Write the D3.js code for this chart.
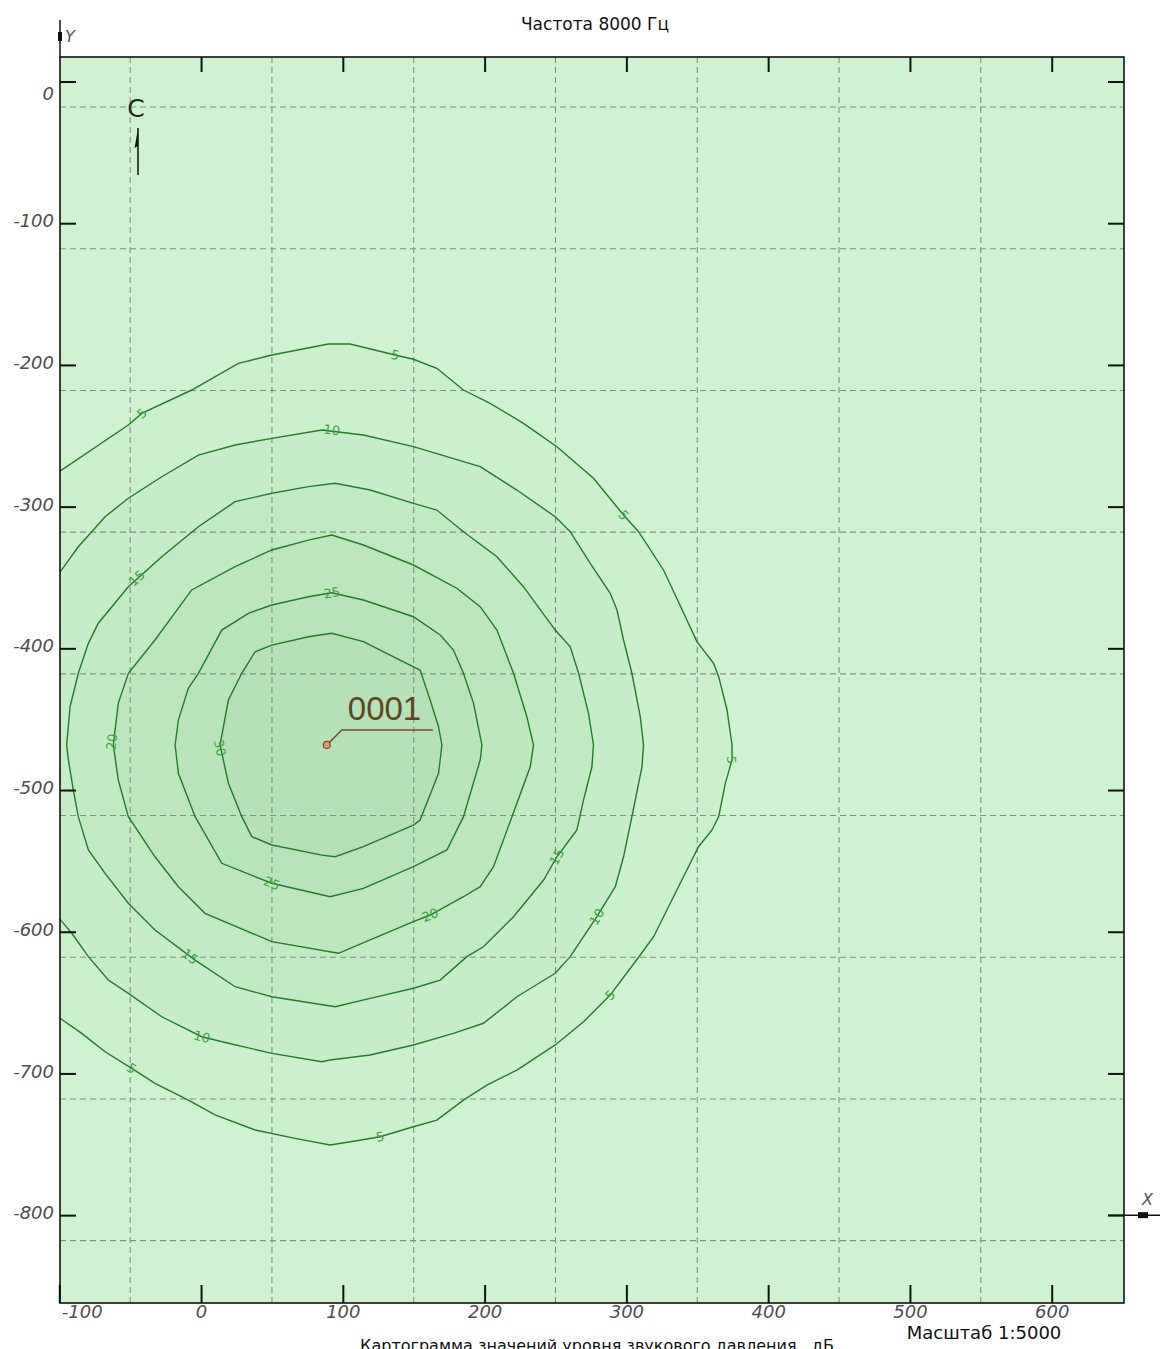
<!DOCTYPE html>
<html>
<head>
<meta charset="utf-8">
<script src="https://cdn.jsdelivr.net/npm/d3@7"></script>
<style>
  body { margin: 0; background: #fff; }
  svg { display: block; font-family: "DejaVu Sans", sans-serif; }
</style>
</head>
<body>
<svg id="chart" width="1168" height="1349"></svg>
<script>
// map extents, metres (scale 1:5000)
var xExtent = [-99.5, 651];
var yExtent = [-862, 17.3];

var xTicks = [-100, 0, 100, 200, 300, 400, 500, 600];
var yTicks = [0, -100, -200, -300, -400, -500, -600, -700, -800];
var gridX = [-50, 50, 150, 250, 350, 450, 550];
var gridY = [-18, -118, -218, -318, -418, -518, -618, -718, -818];

// isolines of sound pressure level, dB
var levels = [5, 10, 15, 20, 25, 30];
var contour5 = [[-101,-276],[-51.3,-242.4],[-41.8,-234.2],[-6.6,-217.7],[26.3,-198.9],[49.9,-193],[89.8,-185.2],[105.1,-185.2],[136.9,-193],[149.8,-196],[166.3,-202.4],[185.1,-217.7],[203.9,-227.1],[227.4,-241.2],[251,-257.7],[276.8,-280],[298,-305.9],[308.6,-317.7],[326.2,-344.7],[349.8,-395.3],[361.5,-410.6],[365.1,-420],[371,-443.5],[374.5,-468.2],[374.5,-478.8],[369.8,-495.3],[365.1,-518.8],[360.4,-528.2],[350.9,-540],[338,-565.8],[319.2,-603.5],[308.6,-618],[288.6,-644.7],[269.8,-663.5],[249.8,-679.9],[222.8,-697.6],[201.6,-708.2],[185.1,-718.8],[166.3,-732.9],[149.8,-737.6],[126.3,-744.7],[108.7,-747.7],[91,-750.5],[66.3,-745.8],[38.1,-739.9],[9.9,-729.3],[-9,-718.8],[-32.5,-707],[-48.9,-696.4],[-67.7,-684.7],[-84.2,-671.7],[-101,-660]];
var contour10 = [[-101,-348.3],[-86.6,-328.3],[-67.7,-307.1],[-51.3,-294.1],[-27.7,-278.9],[-1.9,-263.6],[24,-256.5],[49.9,-251.8],[85.2,-245.9],[114.5,-249.5],[149.8,-257.7],[196.9,-271.8],[222.8,-288.3],[249.8,-307.1],[260.4,-317.7],[274.5,-340],[288.6,-361.2],[293.4,-373],[298,-394.1],[303.9,-417.6],[309.8,-448.3],[312.1,-468.2],[311,-483.6],[303.9,-518.8],[298,-547.1],[292.2,-568.2],[279.2,-589.4],[260.4,-617.6],[249.8,-629.3],[222.8,-645.9],[199.2,-664.6],[178,-671.7],[149.8,-679.9],[119.3,-687],[91,-690.5],[85.2,-691.7],[49.9,-685.8],[19.3,-678.7],[0.5,-674.1],[-27.7,-660],[-51.3,-643.5],[-65.4,-634.1],[-79.5,-617.6],[-91.2,-601.1],[-101,-589.4]];
var contour15 = [[-94.8,-468.2],[-92.4,-441.2],[-86.6,-417.6],[-79.5,-396.5],[-72.5,-382.3],[-51.3,-356.5],[-27.7,-335.4],[-1.9,-314.2],[24,-296.5],[49.9,-290.6],[75.7,-285.9],[94.6,-283.5],[119.3,-288.3],[149.8,-297.7],[166.3,-302.4],[185.1,-317.7],[208.7,-335.4],[227.4,-356.5],[249.8,-387.1],[260.4,-398.9],[266.3,-417.6],[273.3,-445.9],[276.8,-468.2],[275.7,-483.6],[269.8,-507],[265.1,-528.2],[251,-547.1],[241.6,-563.5],[220.4,-589.4],[199.2,-610.6],[187.5,-617.6],[168.7,-634.1],[149.8,-639.9],[119.3,-647],[94.6,-652.9],[49.9,-645.9],[24,-638.8],[-4.2,-620],[-32.5,-598.8],[-51.3,-579.9],[-67.7,-558.8],[-79.5,-542.3],[-86.6,-518.8],[-90.1,-500],[-93.6,-478.8]];
var contour20 = [[-61.9,-468.2],[-58.4,-438.8],[-51.3,-417.6],[-32.5,-394.1],[-6.6,-358.8],[24,-342.4],[49.9,-330.6],[75.7,-323.6],[92.2,-320],[114.5,-327.1],[149.8,-341.2],[180.4,-357.6],[196.9,-370.6],[208.7,-387.1],[220.4,-417.6],[229.8,-448.3],[234.5,-468.2],[232.2,-483.6],[219.3,-518.8],[206.3,-554.1],[196.9,-568.2],[185.1,-575.3],[161.6,-588.2],[149.8,-592.9],[119.3,-605.8],[96.9,-615.2],[49.9,-607],[2.8,-587],[-16,-568.2],[-32.5,-547.1],[-51.3,-518.8],[-58.4,-492.9]];
var contour25 = [[-18.3,-468.2],[-16,-450.6],[-9,-428.2],[-1.9,-417.6],[14.6,-387.1],[33.4,-375.3],[49.9,-369.4],[75.7,-363.6],[92.2,-360.8],[114.5,-365.9],[149.8,-377.7],[168.7,-390.6],[178,-401.2],[185.1,-417.6],[192.2,-438.8],[198.1,-468.2],[196.9,-478.8],[185.1,-518.8],[173.4,-542.3],[149.8,-554.1],[114.5,-569.4],[91,-575.3],[49.9,-565.8],[14.6,-551.7],[-4.2,-518.8],[-16,-488.2]];
var contour30 = [[13.4,-468.2],[19.3,-436.5],[28.7,-417.6],[38.1,-402.4],[49.9,-397.7],[75.7,-391.8],[92.2,-389.4],[114.5,-395.3],[149.8,-413],[154.5,-415.3],[161.6,-436.5],[167.5,-455.3],[169.9,-468.2],[167.5,-488.2],[154.5,-521.2],[149.8,-524.7],[114.5,-540],[94.6,-547.1],[85.2,-545.9],[49.9,-538.8],[35.8,-532.9],[28.7,-518.8],[19.3,-495.3]];
var contourPts = [contour5, contour10, contour15, contour20, contour25, contour30];
var contourClosed = [false, false, true, true, true, true];

// level labels on the isolines: [level, x, y]
var contourLabels = [
  [5, -41.8, -234.2], [5, 136.9, -193], [5, 298, -305.9], [5, 374.5, -478.8],
  [5, 288.6, -644.7], [5, 126.3, -744.7], [5, -48.9, -696.4],
  [10, 92.2, -245.9], [10, 279.2, -589.4], [10, 0.5, -674.1],
  [15, -45.4, -350.4], [15, 251, -547.1], [15, -7.8, -617.6],
  [20, -63, -466], [20, 161.6, -588.2],
  [25, 92.2, -360.8], [25, 49.9, -565.8],
  [30, 13.4, -470.3]
];

// noise source
var sources = [{ id: "0001", x: 88.7, y: -468.2 }];

var svg = d3.select("#chart");
var L = 60, R = 1124, T = 57, B = 1303;

var x = d3.scaleLinear().domain(xExtent).range([L, R]);
var y = d3.scaleLinear().domain(yExtent).range([B, T]);

svg.append("defs").append("clipPath").attr("id", "plotClip")
  .append("rect").attr("x", L).attr("y", T).attr("width", R - L).attr("height", B - T);

// background of the map
svg.append("rect")
  .attr("x", L).attr("y", T).attr("width", R - L).attr("height", B - T)
  .attr("fill", "#cff3d1");

var plot = svg.append("g").attr("clip-path", "url(#plotClip)");

var line = d3.line().x(function(d) { return x(d[0]); }).y(function(d) { return y(d[1]); });

// fills, each level slightly darker than the previous one
plot.selectAll("path.fill")
  .data(contourPts)
  .enter().append("path")
  .attr("class", "fill")
  .attr("d", function(d) { return line(d) + "Z"; })
  .attr("fill", "rgb(70,165,70)")
  .attr("fill-opacity", 0.032)
  .attr("stroke", "none");

// dashed grid
plot.selectAll("line.gx")
  .data(gridX)
  .enter().append("line")
  .attr("x1", function(d) { return x(d); }).attr("x2", function(d) { return x(d); })
  .attr("y1", T).attr("y2", B)
  .attr("stroke", "#7f927f").attr("stroke-width", 1.1).attr("stroke-dasharray", "6,4");
plot.selectAll("line.gy")
  .data(gridY)
  .enter().append("line")
  .attr("y1", function(d) { return y(d); }).attr("y2", function(d) { return y(d); })
  .attr("x1", L).attr("x2", R)
  .attr("stroke", "#7f927f").attr("stroke-width", 1.1).attr("stroke-dasharray", "6,4");

// isolines
plot.selectAll("path.iso")
  .data(contourPts)
  .enter().append("path")
  .attr("class", "iso")
  .attr("d", function(d, i) { return line(d) + (contourClosed[i] ? "Z" : ""); })
  .attr("fill", "none")
  .attr("stroke", "#237a28")
  .attr("stroke-width", 1.4);

// angle of the isoline nearest to a label
function labelAngle(pts, closed, lx, ly) {
  var best = null, bd = Infinity;
  var n = closed ? pts.length : pts.length - 1;
  for (var i = 0; i < n; i++) {
    var p0 = pts[i], p1 = pts[(i + 1) % pts.length];
    var mx = (p0[0] + p1[0]) / 2, my = (p0[1] + p1[1]) / 2;
    var dd = (mx - lx) * (mx - lx) + (my - ly) * (my - ly);
    if (dd < bd) { bd = dd; best = [p0, p1]; }
  }
  var a = Math.atan2(y(best[1][1]) - y(best[0][1]), x(best[1][0]) - x(best[0][0])) * 180 / Math.PI;
  if (a > 90) a -= 180;
  if (a < -90) a += 180;
  return a;
}

plot.selectAll("text.lev")
  .data(contourLabels)
  .enter().append("text")
  .attr("class", "lev")
  .attr("transform", function(d) {
    var k = levels.indexOf(d[0]);
    var a = labelAngle(contourPts[k], contourClosed[k], d[1], d[2]);
    return "translate(" + x(d[1]) + "," + y(d[2]) + ") rotate(" + a + ")";
  })
  .attr("text-anchor", "middle")
  .attr("dy", "0.35em")
  .attr("font-size", 13)
  .attr("fill", "#3da341")
  .text(function(d) { return d[0]; });

// frame
svg.append("rect")
  .attr("x", L).attr("y", T).attr("width", R - L).attr("height", B - T)
  .attr("fill", "none").attr("stroke", "#111").attr("stroke-width", 1.6);

function styleAxis(g) {
  g.select(".domain").remove();
  g.selectAll(".tick line").attr("stroke", "#111").attr("stroke-width", 2);
  g.selectAll(".tick text")
    .attr("font-family", "DejaVu Sans, sans-serif")
    .attr("font-size", 18)
    .attr("font-style", "italic")
    .attr("fill", "#4d4d4d");
}

var fmt = function(d) { return String(d); };

var gBottom = svg.append("g").attr("transform", "translate(0," + B + ")")
  .call(d3.axisBottom(x).tickValues(xTicks).tickSize(-18).tickPadding(2).tickFormat(fmt))
  .call(styleAxis);
// first label is kept inside the map width
gBottom.selectAll(".tick text").filter(function(d) { return d === xTicks[0]; })
  .attr("text-anchor", "start").attr("x", 2);

svg.append("g").attr("transform", "translate(0," + T + ")")
  .call(d3.axisTop(x).tickValues(xTicks.slice(1)).tickSize(-15).tickFormat(""))
  .call(styleAxis);

var gLeft = svg.append("g").attr("transform", "translate(" + L + ",0)")
  .call(d3.axisLeft(y).tickValues(yTicks).tickSize(-16).tickPadding(6).tickFormat(fmt))
  .call(styleAxis);
gLeft.selectAll(".tick text").attr("dy", "0.2em");
gLeft.selectAll(".tick text").filter(function(d) { return d === yTicks[0]; })
  .attr("dy", "1.0em");

svg.append("g").attr("transform", "translate(" + R + ",0)")
  .call(d3.axisRight(y).tickValues(yTicks).tickSize(-16).tickFormat(""))
  .call(styleAxis);

// axis arrows Y (on the left edge) and X (at the lowest row of ticks)
svg.append("line").attr("x1", L).attr("x2", L).attr("y1", 20).attr("y2", T)
  .attr("stroke", "#111").attr("stroke-width", 1.5);
svg.append("rect").attr("x", L - 2).attr("y", 32).attr("width", 4).attr("height", 9).attr("fill", "#111");
svg.append("text").attr("x", L + 5).attr("y", 42)
  .attr("font-size", 16).attr("font-style", "italic").attr("fill", "#555").text("Y");

var yX = y(yTicks[yTicks.length - 1]);
svg.append("line").attr("x1", R - 16).attr("x2", 1160).attr("y1", yX).attr("y2", yX)
  .attr("stroke", "#111").attr("stroke-width", 1.5);
svg.append("rect").attr("x", 1138).attr("y", yX - 3).attr("width", 10).attr("height", 6).attr("fill", "#111");
svg.append("text").attr("x", 1142).attr("y", yX - 10)
  .attr("font-size", 16).attr("font-style", "italic").attr("fill", "#555").text("X");

// north sign
svg.append("text").attr("x", 136).attr("y", 117).attr("text-anchor", "middle")
  .attr("font-size", 25).attr("fill", "#222").text("С");
svg.append("line").attr("x1", 138).attr("x2", 138).attr("y1", 128).attr("y2", 175)
  .attr("stroke", "#111").attr("stroke-width", 1.5);
svg.append("path").attr("d", "M138,129 L134.5,148 L138,146 Z").attr("fill", "#111");

// source point with its callout
var src = svg.append("g").selectAll("g").data(sources).enter().append("g")
  .attr("transform", function(d) { return "translate(" + x(d.x) + "," + y(d.y) + ")"; });
src.append("path").attr("d", "M0,0 L15,-15 L106,-15")
  .attr("fill", "none").attr("stroke", "#7a4b24").attr("stroke-width", 1.5);
src.append("circle").attr("r", 3.5).attr("fill", "#d9a070").attr("stroke", "#8b4a22").attr("stroke-width", 1.2);
src.append("text").attr("x", 21).attr("y", -25)
  .attr("font-family", "Liberation Sans, Arial, sans-serif")
  .attr("font-size", 33).attr("fill", "#5e4520")
  .text(function(d) { return d.id; });

// titles
svg.append("text").attr("x", 595).attr("y", 30).attr("text-anchor", "middle")
  .attr("font-size", 17).attr("fill", "#111").text("Частота 8000 Гц");
svg.append("text").attr("x", 984).attr("y", 1339).attr("text-anchor", "middle")
  .attr("font-size", 18).attr("fill", "#111").text("Масштаб 1:5000");
svg.append("text").attr("x", 597).attr("y", 1351).attr("text-anchor", "middle")
  .attr("font-size", 16).attr("fill", "#111").text("Картограмма значений уровня звукового давления , дБ");
</script>
</body>
</html>
